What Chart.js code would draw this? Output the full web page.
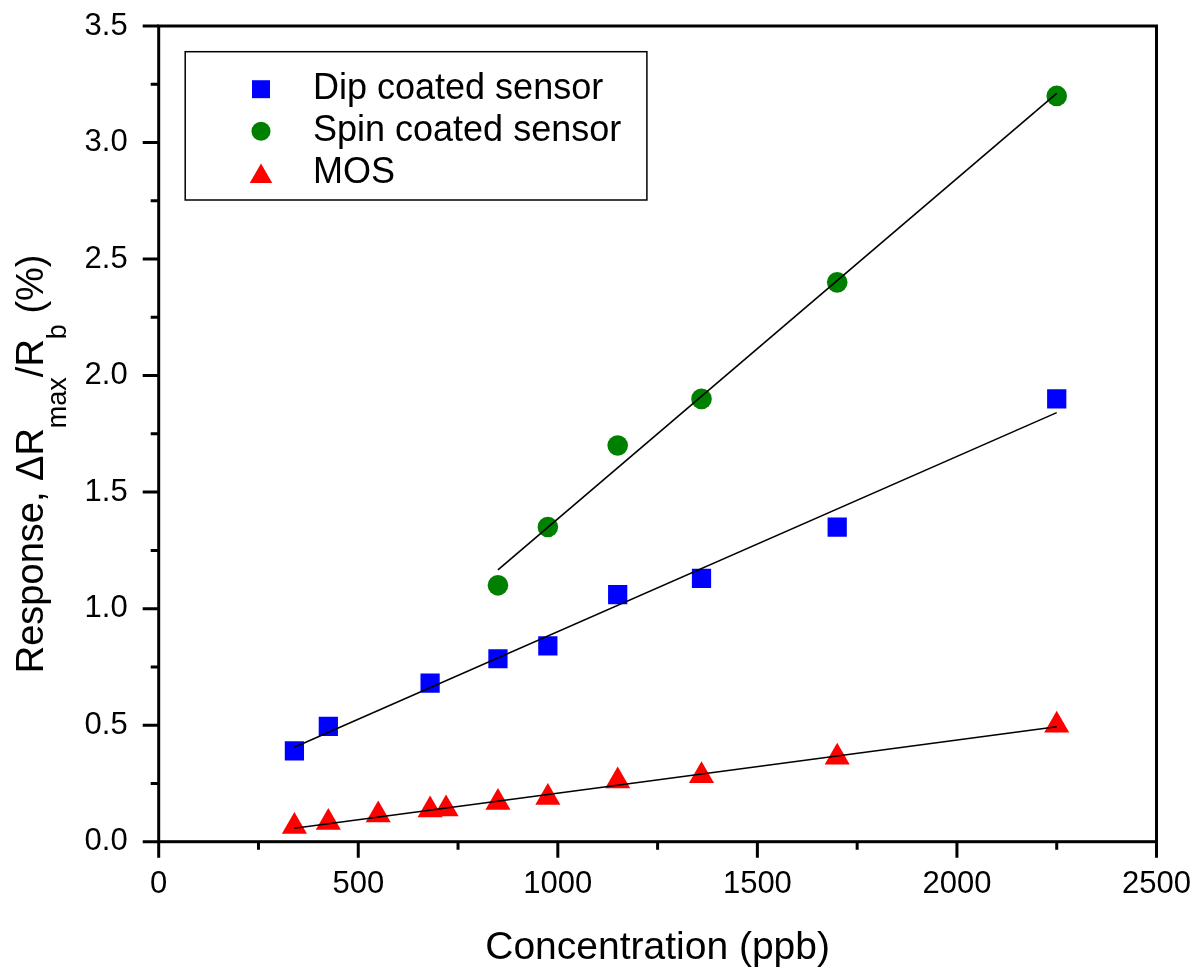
<!DOCTYPE html>
<html>
<head>
<meta charset="utf-8">
<script src="https://cdn.jsdelivr.net/npm/chart.js@4.4.1/dist/chart.umd.min.js"></script>
<style>
  html, body { margin: 0; padding: 0; background: #fff; }
  canvas { display: block; }
</style>
</head>
<body>
<canvas id="chart" width="1195" height="970"></canvas>
<script>
// values
const dipX = [340, 425, 680, 850, 975, 1150, 1360, 1700, 2250];
const dipY = [0.39, 0.495, 0.68, 0.785, 0.84, 1.06, 1.13, 1.35, 1.90];
const spinX = [850, 975, 1150, 1360, 1700, 2250];
const spinY = [1.10, 1.35, 1.70, 1.90, 2.40, 3.20];
const mosX = [340, 425, 550, 680, 720, 850, 975, 1150, 1360, 1700, 2250];
const mosY = [0.065, 0.082, 0.115, 0.136, 0.14, 0.168, 0.19, 0.26, 0.283, 0.362, 0.50];

// fitted lines, end points as drawn
const dipFitX = [340, 2250];
const dipFitY = [0.405, 1.841];
const spinFitX = [850, 2250];
const spinFitY = [1.166, 3.211];
const mosFitX = [340, 2250];
const mosFitY = [0.058, 0.493];

const legendLabels = ['Dip coated sensor', 'Spin coated sensor', 'MOS'];
const xMinorTicks = [250, 750, 1250, 1750, 2250];
const yMinorTicks = [0.25, 0.75, 1.25, 1.75, 2.25, 2.75, 3.25];

const FONT = '"Liberation Sans", Arial, sans-serif';

function toPoints(xs, ys) {
  return xs.map((x, i) => ({x: x, y: ys[i]}));
}

function drawMarker(ctx, style, x, y, r) {
  ctx.beginPath();
  if (style === 'rect') {
    const s = Math.SQRT1_2 * r;
    ctx.rect(x - s, y - s, 2 * s, 2 * s);
  } else if (style === 'circle') {
    ctx.arc(x, y, r, 0, Math.PI * 2);
  } else {
    const w = Math.sin(Math.PI * 2 / 3) * r;
    ctx.moveTo(x, y - r);
    ctx.lineTo(x + w, y + r / 2);
    ctx.lineTo(x - w, y + r / 2);
    ctx.closePath();
  }
  ctx.fill();
}

// no extra room for overflowing tick labels, the padding below is exact
function noOverflow(s) {
  s.paddingTop = 0;
  s.paddingBottom = 0;
  s.paddingLeft = 0;
  s.paddingRight = 0;
}

const frameTicks = {
  id: 'frameTicks',
  afterDraw(chart) {
    const {ctx, chartArea: a, scales: {x, y}} = chart;
    ctx.save();
    ctx.strokeStyle = '#000';
    ctx.lineWidth = 3;
    ctx.strokeRect(a.left, a.top, a.right - a.left, a.bottom - a.top);
    ctx.beginPath();
    x.ticks.forEach(t => {
      const px = x.getPixelForValue(t.value);
      ctx.moveTo(px, a.bottom);
      ctx.lineTo(px, a.bottom + 16);
    });
    xMinorTicks.forEach(v => {
      const px = x.getPixelForValue(v);
      ctx.moveTo(px, a.bottom);
      ctx.lineTo(px, a.bottom + 8);
    });
    y.ticks.forEach(t => {
      const py = y.getPixelForValue(t.value);
      ctx.moveTo(a.left, py);
      ctx.lineTo(a.left - 16, py);
    });
    yMinorTicks.forEach(v => {
      const py = y.getPixelForValue(v);
      ctx.moveTo(a.left, py);
      ctx.lineTo(a.left - 8, py);
    });
    ctx.stroke();
    ctx.restore();
  }
};

const legendBox = {
  id: 'legendBox',
  afterDraw(chart) {
    const {ctx, chartArea: a} = chart;
    const left = a.left + 26.5, top = a.top + 25.7;
    ctx.save();
    ctx.strokeStyle = '#000';
    ctx.lineWidth = 1.5;
    ctx.strokeRect(left, top, 461.7, 148.3);
    const markerSets = chart.data.datasets.filter(d => d.isMarker);
    const sizes = {rect: 12.7, circle: 9.5, triangle: 13};
    legendLabels.forEach((label, i) => {
      const ds = markerSets[i];
      const cy = top + 37.5 + i * 42;
      const r = sizes[ds.pointStyle];
      ctx.fillStyle = ds.backgroundColor;
      drawMarker(ctx, ds.pointStyle, a.left + 102.3, ds.pointStyle === 'triangle' ? cy + r * 0.25 : cy, r);
      ctx.fillStyle = '#000';
      ctx.font = '36px ' + FONT;
      ctx.textBaseline = 'middle';
      ctx.textAlign = 'left';
      ctx.fillText(label, a.left + 154.3, cy);
    });
    ctx.restore();
  }
};

const yTitle = {
  id: 'yTitle',
  afterDraw(chart) {
    const {ctx, chartArea: a} = chart;
    const parts = [
      ['Response, \u0394R', 38, 0],
      ['max', 27, 23],
      ['/R', 38, 0],
      ['b', 27, 23],
      [' (%)', 38, 0]
    ];
    ctx.save();
    ctx.fillStyle = '#000';
    let total = 0;
    parts.forEach(p => {
      ctx.font = p[1] + 'px ' + FONT;
      total += ctx.measureText(p[0]).width;
    });
    ctx.translate(43, (a.top + a.bottom) / 2 + 30);
    ctx.rotate(-Math.PI / 2);
    ctx.textBaseline = 'alphabetic';
    ctx.textAlign = 'left';
    let pos = -total / 2;
    parts.forEach(p => {
      ctx.font = p[1] + 'px ' + FONT;
      ctx.fillText(p[0], pos, p[2]);
      pos += ctx.measureText(p[0]).width;
    });
    ctx.restore();
  }
};

function fitLine(xs, ys) {
  return {
    data: toPoints(xs, ys),
    showLine: true,
    borderColor: '#000',
    borderWidth: 1.6,
    pointRadius: 0,
    fill: false,
    order: 0
  };
}

function markerSet(label, xs, ys, color, style, radius) {
  return {
    label: label,
    isMarker: true,
    data: toPoints(xs, ys),
    showLine: false,
    pointStyle: style,
    pointRadius: radius,
    pointHoverRadius: radius,
    backgroundColor: color,
    borderColor: color,
    borderWidth: 0,
    order: 1
  };
}

new Chart(document.getElementById('chart'), {
  type: 'scatter',
  data: {
    datasets: [
      fitLine(dipFitX, dipFitY),
      fitLine(spinFitX, spinFitY),
      fitLine(mosFitX, mosFitY),
      markerSet(legendLabels[0], dipX, dipY, '#0000ff', 'rect', 13.6),
      markerSet(legendLabels[1], spinX, spinY, '#008000', 'circle', 10.3),
      markerSet(legendLabels[2], mosX, mosY, '#ff0000', 'triangle', 14.5)
    ]
  },
  options: {
    responsive: false,
    animation: false,
    devicePixelRatio: 1,
    layout: {padding: {top: 26, right: 38.5, bottom: 0, left: 0}},
    plugins: {
      legend: {display: false},
      tooltip: {enabled: false}
    },
    scales: {
      x: {
        type: 'linear',
        min: 0,
        max: 2500,
        grid: {display: false, drawTicks: false},
        border: {display: false},
        ticks: {
          stepSize: 500,
          color: '#000',
          padding: 24,
          maxRotation: 0,
          font: {family: FONT, size: 31},
          callback: v => String(v)
        },
        title: {
          display: true,
          text: 'Concentration (ppb)',
          color: '#000',
          padding: 0,
          font: {family: FONT, size: 39, lineHeight: 1.1}
        },
        afterFit: s => { s.height = 128.3; noOverflow(s); }
      },
      y: {
        type: 'linear',
        min: 0,
        max: 3.5,
        grid: {display: false, drawTicks: false},
        border: {display: false},
        ticks: {
          stepSize: 0.5,
          color: '#000',
          padding: 31,
          font: {family: FONT, size: 31},
          callback: v => v.toFixed(1)
        },
        afterFit: s => { s.width = 158.7; noOverflow(s); }
      }
    }
  },
  plugins: [frameTicks, legendBox, yTitle]
});
</script>
</body>
</html>
